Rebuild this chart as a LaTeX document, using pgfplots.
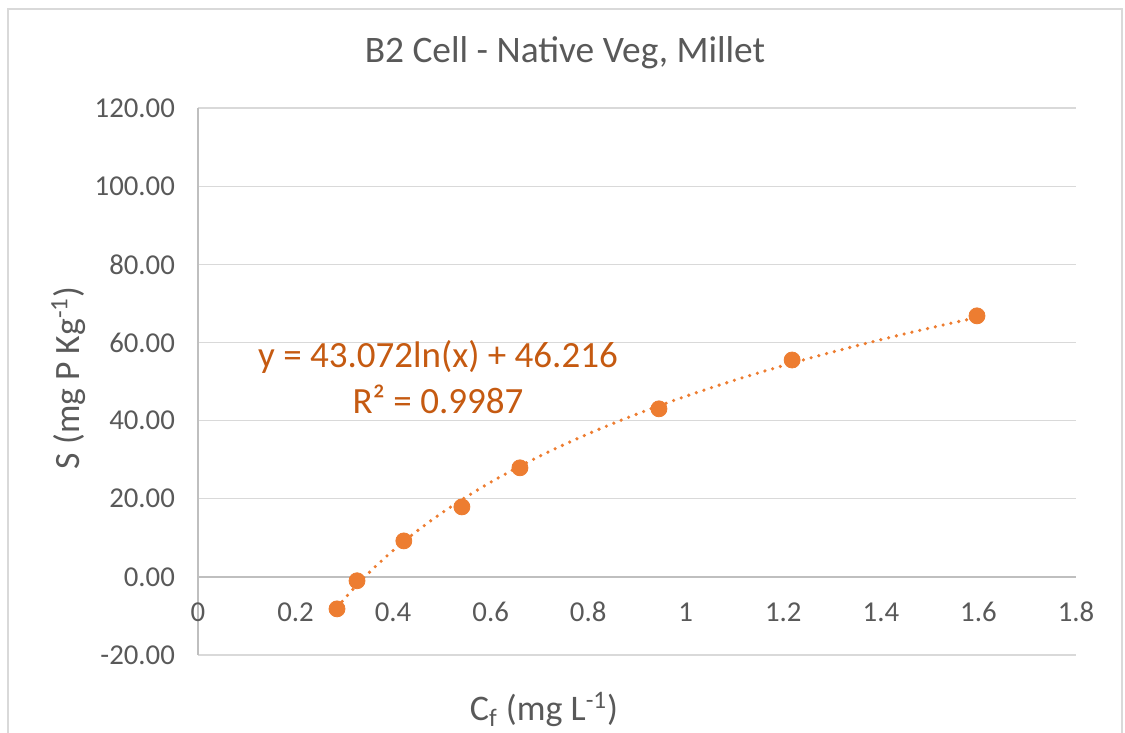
\documentclass[border=0pt]{standalone}
\usepackage{pgfplots}
\pgfplotsset{compat=1.18}
\usepackage{fontspec}
\setmainfont{Carlito}
\definecolor{txt}{RGB}{89,89,89}
\definecolor{gridc}{RGB}{217,217,217}
\definecolor{axc}{RGB}{191,191,191}
\definecolor{ptc}{RGB}{237,125,49}
\definecolor{eqc}{RGB}{197,90,17}

\begin{document}
\begin{tikzpicture}
\useasboundingbox (-99pt,-39pt) rectangle (463.5pt,327.5pt);
% chart area frame
\draw[gridc, line width=0.6pt] (-95pt,-45pt) -- (-95pt,323pt) -- (462pt,323pt) -- (462pt,-45pt);
\begin{axis}[
  scale only axis, width=439pt, height=273.5pt,
  xmin=0, xmax=1.8, ymin=-20, ymax=120,
  axis x line=middle, axis y line=left,
  axis line style={-, draw=axc, line width=0.75pt},
  xtick={0,0.2,0.4,0.6,0.8,1,1.2,1.4,1.6,1.8},
  ytick={-20,0,20,40,60,80,100,120},
  ymajorgrids, grid style={draw=gridc, line width=0.6pt},
  major tick length=0pt,
  hide obscured x ticks=false,
  tick label style={font=\fontsize{14.4}{17}\selectfont, text=txt},
  /pgf/number format/assume math mode=true,
  yticklabel style={/pgf/number format/.cd, fixed, fixed zerofill, precision=2, /tikz/.cd, anchor=east, xshift=-8pt},
  xticklabel style={anchor=base, yshift=-22.5pt},
  clip=false,
]
% logarithmic fit
\addplot[ptc, line width=1.8pt, line cap=round, dash pattern=on 0pt off 4pt, domain=0.285:1.597, samples=120] {43.072*ln(x)+46.216};
% measured sorption
\addplot[only marks, mark=*, mark size=4pt, mark options={draw=ptc, fill=ptc}] coordinates {
  (0.285,-8.2) (0.326,-1.0) (0.422,9.2) (0.541,17.9) (0.660,27.9) (0.945,43.0) (1.218,55.5) (1.597,66.8)
};
\node[anchor=base, text=eqc, font=\fontsize{18.5}{22}\selectfont] at (axis cs:0.492,53.7) {y = 43.072ln(x) + 46.216};
\node[anchor=base, text=eqc, font=\fontsize{18.5}{22}\selectfont] at (axis cs:0.492,41.9) {R² = 0.9987};
\end{axis}
\node[anchor=base, text=txt, font=\fontsize{18.7}{22}\selectfont] at (183.5pt,296pt) {B2 Cell - Native Veg, Millet};
\node[anchor=base, rotate=90, text=txt, font=\fontsize{17.8}{21}\selectfont] at (-59pt,138.5pt) {S (mg P Kg\textsuperscript{-1})};
\node[anchor=base, text=txt, font=\fontsize{18}{21}\selectfont] at (173pt,-33pt) {C\textsubscript{f} (mg L\textsuperscript{-1})};
\end{tikzpicture}
\end{document}
